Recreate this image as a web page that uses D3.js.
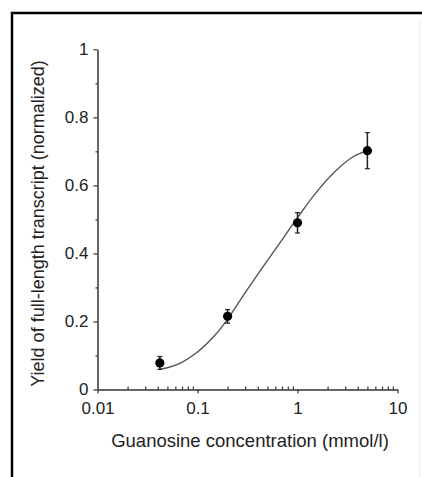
<!DOCTYPE html>
<html>
<head>
<meta charset="utf-8">
<script src="https://cdn.jsdelivr.net/npm/d3@7"></script>
<style>
  body { margin: 0; background: #fff; }
  svg { display: block; font-family: "Liberation Sans", Arial, sans-serif; }
</style>
</head>
<body>
<script>
// measured points (concentration, yield, error)
var conc = [0.042, 0.2, 1, 5];
var yieldVals = [0.078, 0.215, 0.49, 0.702];
var errVals = [0.019, 0.02, 0.03, 0.053];

// fitted curve
var curveX = [0.042, 0.05, 0.07, 0.1, 0.15, 0.2, 0.3, 0.45, 0.7, 1.0, 1.5, 2.4, 3.5, 5];
var curveY = [0.06, 0.064, 0.08, 0.11, 0.16, 0.207, 0.285, 0.36, 0.44, 0.505, 0.575, 0.642, 0.682, 0.702];

var xTicks = [0.01, 0.1, 1, 10];
var xTickLabels = ["0.01", "0.1", "1", "10"];
var yTicks = [0, 0.2, 0.4, 0.6, 0.8, 1];
var yTickLabels = ["0", "0.2", "0.4", "0.6", "0.8", "1"];

var W = 422, H = 477;

var svg = d3.select("body").append("svg")
  .attr("width", W)
  .attr("height", H);

// frame
svg.append("line").attr("x1", 12).attr("x2", 12).attr("y1", 12).attr("y2", H)
  .attr("stroke", "#000").attr("stroke-width", 2.5);
svg.append("line").attr("x1", 11).attr("x2", W).attr("y1", 13).attr("y2", 13)
  .attr("stroke", "#000").attr("stroke-width", 2.5);
svg.append("line").attr("x1", 419.5).attr("x2", 419.5).attr("y1", 20).attr("y2", H)
  .attr("stroke", "#eee").attr("stroke-width", 1);

var x = d3.scaleLog().domain([0.01, 10]).range([97.5, 397.5]);
var y = d3.scaleLinear().domain([0, 1]).range([389.5, 49.3]);

var axisColor = "#333";

// x axis: major ticks down, minor ticks up
var minorX = [];
[0.01, 0.1, 1].forEach(function (d) {
  for (var k = 2; k <= 9; k++) minorX.push(d * k);
});

var gx = svg.append("g")
  .attr("transform", "translate(0," + y(0) + ")")
  .call(d3.axisBottom(x).tickValues(xTicks)
    .tickFormat(function (d, i) { return xTickLabels[i]; })
    .tickSizeInner(4).tickSizeOuter(0).tickPadding(8.5));

svg.append("g")
  .attr("transform", "translate(0," + y(0) + ")")
  .call(d3.axisBottom(x).tickValues(minorX).tickFormat("")
    .tickSizeInner(-3).tickSizeOuter(0))
  .select(".domain").remove();

// y axis
var minorY = [0.1, 0.3, 0.5, 0.7, 0.9];
svg.append("g")
  .attr("transform", "translate(" + x(0.01) + ",0)")
  .call(d3.axisLeft(y).tickValues(yTicks)
    .tickFormat(function (d, i) { return yTickLabels[i]; })
    .tickSizeInner(4).tickSizeOuter(0).tickPadding(5));

svg.append("g")
  .attr("transform", "translate(" + x(0.01) + ",0)")
  .call(d3.axisLeft(y).tickValues(minorY).tickFormat("")
    .tickSizeInner(2).tickSizeOuter(0))
  .select(".domain").remove();

svg.selectAll(".domain").attr("stroke", axisColor).attr("stroke-width", 1.5);
svg.selectAll(".tick line").attr("stroke", axisColor).attr("stroke-width", 1.2);
svg.selectAll(".tick text")
  .attr("fill", "#222")
  .style("font-size", "17px")
  .style("font-family", "'Liberation Sans', Arial, sans-serif");

// fitted curve
var pts = curveX.map(function (d, i) { return [d, curveY[i]]; });
var line = d3.line()
  .x(function (d) { return x(d[0]); })
  .y(function (d) { return y(d[1]); })
  .curve(d3.curveCatmullRom.alpha(0.5));

svg.append("path")
  .datum(pts)
  .attr("d", line)
  .attr("fill", "none")
  .attr("stroke", "#555")
  .attr("stroke-width", 1.4);

// error bars and points
var data = conc.map(function (d, i) {
  return { c: d, v: yieldVals[i], e: errVals[i] };
});

var pg = svg.append("g").selectAll("g").data(data).enter().append("g");

pg.append("line")
  .attr("x1", function (d) { return x(d.c); })
  .attr("x2", function (d) { return x(d.c); })
  .attr("y1", function (d) { return y(d.v + d.e); })
  .attr("y2", function (d) { return y(d.v - d.e); })
  .attr("stroke", "#222").attr("stroke-width", 1.5);

[1, -1].forEach(function (s) {
  pg.append("line")
    .attr("x1", function (d) { return x(d.c) - 2.5; })
    .attr("x2", function (d) { return x(d.c) + 2.5; })
    .attr("y1", function (d) { return y(d.v + s * d.e); })
    .attr("y2", function (d) { return y(d.v + s * d.e); })
    .attr("stroke", "#222").attr("stroke-width", 1.2);
});

pg.append("circle")
  .attr("cx", function (d) { return x(d.c); })
  .attr("cy", function (d) { return y(d.v); })
  .attr("r", 4.6)
  .attr("fill", "#000");

// axis titles
svg.append("text")
  .attr("transform", "translate(38," + 223.5 + ") rotate(-90)")
  .attr("text-anchor", "middle")
  .attr("dy", "0.35em")
  .attr("fill", "#222")
  .style("font-size", "18px")
  .text("Yield of full-length transcript (normalized)");

svg.append("text")
  .attr("x", 250)
  .attr("y", 447)
  .attr("text-anchor", "middle")
  .attr("fill", "#222")
  .style("font-size", "18.5px")
  .text("Guanosine concentration (mmol/l)");
</script>
</body>
</html>
